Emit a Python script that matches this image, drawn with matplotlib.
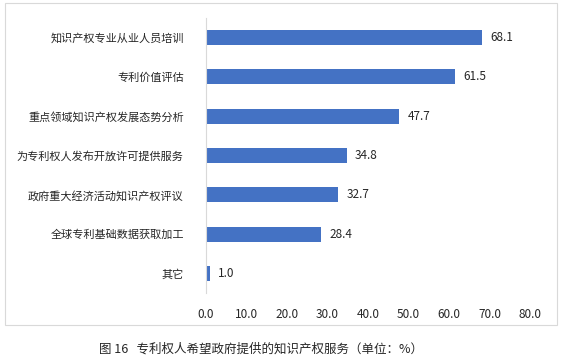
import matplotlib
matplotlib.use('Agg')
import matplotlib.pyplot as plt
from matplotlib.patches import Rectangle

plt.rcParams['font.family'] = ['Noto Sans CJK SC', 'DejaVu Sans']

# 数据
categories = ['知识产权专业从业人员培训', '专利价值评估', '重点领域知识产权发展态势分析',
              '为专利权人发布开放许可提供服务', '政府重大经济活动知识产权评议',
              '全球专利基础数据获取加工', '其它']
values = [68.1, 61.5, 47.7, 34.8, 32.7, 28.4, 1.0]
xticks = [0, 10, 20, 30, 40, 50, 60, 70, 80]
caption = '图 16   专利权人希望政府提供的知识产权服务（单位：%）'

fig = plt.figure(figsize=(5.62, 3.61), dpi=100)
ax = fig.add_axes([206/562, 1-293/361, (530-206)/562, (293-18)/361])

y = list(range(len(categories)))
ax.barh(y, values, height=0.38, color='#4472C4')
for yi, v in zip(y, values):
    ax.text(v + 2, yi, f'{v:.1f}', va='center', ha='left', fontsize=8.5, color='#262626')

ax.set_ylim(len(categories) - 0.5, -0.5)
ax.set_xlim(0, 80)
ax.set_yticks(y)
ax.set_yticklabels(categories, fontsize=8.0, color='#262626')
ax.set_xticks(xticks)
ax.set_xticklabels([f'{t:.1f}' for t in xticks], fontsize=8.5, color='#262626')
ax.tick_params(length=0)
ax.tick_params(axis='y', pad=16)
ax.tick_params(axis='x', pad=11)
for s in ['top', 'right', 'bottom']:
    ax.spines[s].set_visible(False)
ax.spines['left'].set_color('#D9D9D9')

# 外框
fig.patches.append(Rectangle((5/562, 1-325/361), 552/562, 322/361, transform=fig.transFigure,
                             fill=False, edgecolor='#D9D9D9', linewidth=0.8))
fig.text(0.464, 1-349/361, caption, ha='center', va='center', fontsize=9, color='#262626')

fig.savefig('out.png', dpi=100)
